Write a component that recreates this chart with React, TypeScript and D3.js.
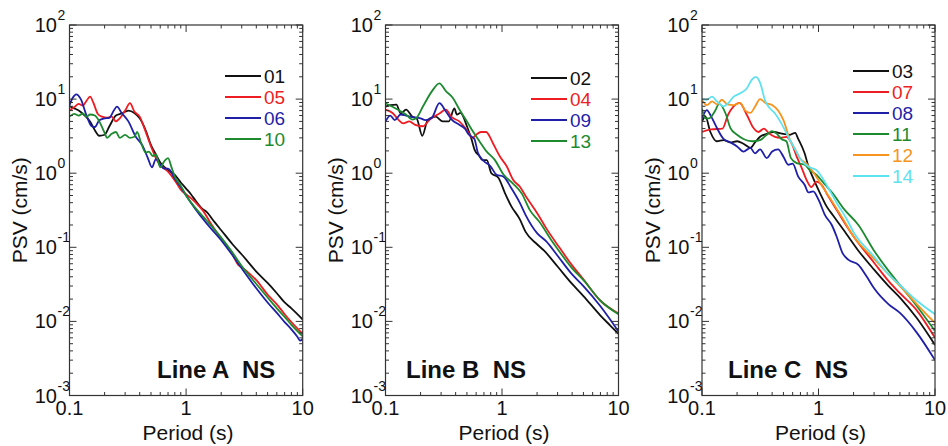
import React from 'react'
import * as d3 from 'd3'

type Pt = [number, number]

// period (s), PSV (cm/s) pairs

// Line A
const a01: Pt[] = [[0.1, 8], [0.11, 7.5], [0.12, 7], [0.135, 6], [0.15, 5], [0.165, 3.8], [0.18, 3.2], [0.2, 3.3], [0.22, 4.3], [0.25, 6], [0.28, 6.4], [0.32, 7], [0.36, 6.5], [0.4, 5.5], [0.45, 3.8], [0.5, 2.4], [0.55, 1.8], [0.6, 1.4], [0.7, 1.1], [0.8, 0.95], [0.9, 0.75], [1.0, 0.62], [1.1, 0.52], [1.2, 0.43], [1.35, 0.34], [1.5, 0.3], [1.75, 0.22], [2, 0.17], [2.5, 0.11], [3, 0.08], [4, 0.047], [5, 0.033], [6, 0.024], [7, 0.018], [8, 0.015], [10, 0.0106]]
const a05: Pt[] = [[0.1, 7], [0.11, 7.8], [0.12, 8.6], [0.13, 8.2], [0.14, 9.5], [0.15, 10.8], [0.16, 9], [0.175, 6.3], [0.19, 5.8], [0.21, 5.6], [0.23, 5.8], [0.25, 5], [0.27, 5.5], [0.3, 7], [0.33, 8.8], [0.36, 6.8], [0.4, 5.8], [0.44, 4], [0.5, 2.3], [0.55, 1.6], [0.6, 1.3], [0.7, 1.05], [0.8, 0.8], [0.9, 0.6], [1.0, 0.52], [1.1, 0.46], [1.25, 0.38], [1.4, 0.31], [1.6, 0.22], [2, 0.13], [2.5, 0.08], [2.8, 0.058], [3.1, 0.052], [3.5, 0.044], [4, 0.036], [5, 0.023], [6, 0.017], [7, 0.0125], [8, 0.0098], [10, 0.0068]]
const a06: Pt[] = [[0.1, 8.3], [0.107, 10.5], [0.114, 11.6], [0.125, 10], [0.14, 6], [0.155, 4.3], [0.165, 4.2], [0.18, 5.2], [0.2, 5.5], [0.22, 5.6], [0.24, 7], [0.255, 7.9], [0.28, 6.5], [0.32, 5], [0.37, 3.1], [0.42, 2.4], [0.47, 1.6], [0.51, 1.2], [0.55, 1.55], [0.6, 1.3], [0.65, 1.15], [0.7, 1.15], [0.8, 0.85], [0.9, 0.65], [1.0, 0.5], [1.2, 0.33], [1.5, 0.21], [2, 0.125], [2.5, 0.078], [3, 0.052], [4, 0.028], [5, 0.018], [6, 0.013], [7, 0.0098], [8, 0.0078], [9, 0.0062], [9.5, 0.0055], [10, 0.0058]]
const a10: Pt[] = [[0.1, 5.8], [0.11, 6.3], [0.12, 6], [0.13, 6.4], [0.14, 5.8], [0.15, 6.2], [0.165, 6], [0.18, 5], [0.2, 3.5], [0.21, 3.0], [0.23, 3.4], [0.25, 3.6], [0.27, 3.0], [0.3, 3.3], [0.33, 3.0], [0.36, 3.1], [0.38, 3.6], [0.41, 2.6], [0.45, 1.9], [0.48, 1.95], [0.52, 1.7], [0.55, 1.8], [0.6, 1.2], [0.65, 1.45], [0.7, 1.6], [0.75, 1.2], [0.8, 0.9], [0.9, 0.68], [1.0, 0.5], [1.2, 0.34], [1.5, 0.23], [2, 0.135], [2.5, 0.085], [3, 0.056], [4, 0.032], [5, 0.021], [6, 0.015], [7, 0.0115], [8, 0.009], [10, 0.0063]]

// Line B
const b02: Pt[] = [[0.1, 7.9], [0.11, 8.3], [0.124, 8.4], [0.135, 6.4], [0.15, 7.2], [0.17, 5.8], [0.185, 5.5], [0.207, 3.2], [0.23, 5.2], [0.27, 5.8], [0.31, 5], [0.35, 5], [0.39, 7.5], [0.41, 6.2], [0.44, 6.5], [0.5, 4.3], [0.55, 2.8], [0.58, 2.1], [0.64, 1.7], [0.68, 1.5], [0.74, 1.5], [0.81, 1.0], [0.93, 0.87], [1.06, 0.54], [1.2, 0.36], [1.42, 0.24], [1.6, 0.16], [2, 0.11], [2.3, 0.09], [3, 0.055], [4, 0.032], [5, 0.022], [7, 0.012], [8.5, 0.0088], [10, 0.0068]]
const b04: Pt[] = [[0.1, 7.2], [0.115, 6.5], [0.13, 5.2], [0.142, 4.7], [0.16, 5], [0.18, 4.5], [0.21, 4.3], [0.24, 5.3], [0.29, 6.4], [0.33, 7.2], [0.37, 5.7], [0.43, 5], [0.5, 3.8], [0.56, 3.0], [0.6, 3.3], [0.66, 3.6], [0.73, 3.6], [0.84, 2.5], [0.96, 1.68], [1.1, 1.23], [1.25, 0.81], [1.42, 0.66], [1.6, 0.49], [2, 0.29], [2.4, 0.18], [3.1, 0.1], [4, 0.057], [5, 0.037], [7, 0.019], [10, 0.0128]]
const b09: Pt[] = [[0.1, 5], [0.11, 6], [0.12, 5.2], [0.135, 6.2], [0.15, 6], [0.17, 5.7], [0.2, 5.5], [0.22, 5.2], [0.25, 5.6], [0.29, 8.8], [0.33, 6.8], [0.37, 5.3], [0.43, 4.5], [0.48, 4], [0.52, 3.3], [0.58, 2.9], [0.62, 1.9], [0.7, 1.45], [0.79, 1.26], [0.9, 0.95], [1.03, 0.9], [1.2, 0.63], [1.42, 0.4], [1.6, 0.27], [2, 0.155], [2.4, 0.12], [3, 0.077], [4, 0.043], [5, 0.03], [7, 0.016], [10, 0.0073]]
const b13: Pt[] = [[0.1, 8.8], [0.12, 7.6], [0.15, 6.2], [0.17, 5.3], [0.185, 5.6], [0.21, 8], [0.25, 12.7], [0.29, 16.3], [0.33, 12.8], [0.38, 10.3], [0.43, 7.3], [0.5, 5], [0.56, 3.7], [0.64, 2.7], [0.73, 2], [0.87, 1.5], [1.03, 0.96], [1.25, 0.72], [1.48, 0.53], [1.73, 0.32], [2.1, 0.22], [2.7, 0.12], [3, 0.095], [4, 0.052], [5, 0.036], [7, 0.019], [10, 0.0125]]

// Line C
const c03: Pt[] = [[0.1, 5], [0.107, 5.8], [0.118, 3.6], [0.134, 2.7], [0.153, 2.8], [0.175, 2.6], [0.2, 2.7], [0.227, 2.5], [0.26, 2.2], [0.285, 2.6], [0.315, 3.1], [0.36, 3.4], [0.41, 3.6], [0.5, 3.4], [0.57, 3.3], [0.63, 3.5], [0.67, 2.9], [0.76, 1.86], [0.82, 1.23], [0.9, 0.86], [1.03, 0.54], [1.17, 0.36], [1.33, 0.27], [1.65, 0.17], [2.2, 0.09], [3, 0.05], [4, 0.03], [5, 0.021], [7, 0.011], [10, 0.0048]]
const c07: Pt[] = [[0.1, 3.6], [0.12, 3.9], [0.15, 4], [0.167, 6.1], [0.186, 7.9], [0.21, 8.9], [0.243, 6.1], [0.276, 4.1], [0.305, 3.6], [0.34, 4], [0.38, 3.4], [0.47, 3.0], [0.53, 3.1], [0.59, 2.5], [0.65, 1.67], [0.71, 1.23], [0.79, 0.81], [0.87, 0.65], [0.96, 0.77], [1.06, 0.7], [1.21, 0.49], [1.43, 0.32], [1.72, 0.2], [2, 0.14], [3, 0.062], [4, 0.035], [5, 0.024], [7, 0.014], [10, 0.006]]
const c08: Pt[] = [[0.1, 5.5], [0.11, 7.1], [0.12, 5.8], [0.134, 4.1], [0.153, 2.9], [0.175, 2.6], [0.2, 2.3], [0.227, 1.96], [0.26, 2.2], [0.285, 1.85], [0.315, 2.1], [0.36, 1.6], [0.4, 1.96], [0.45, 2.1], [0.5, 1.67], [0.55, 1.3], [0.6, 1.35], [0.67, 0.9], [0.76, 0.7], [0.82, 0.55], [0.9, 0.57], [1.0, 0.44], [1.14, 0.27], [1.3, 0.2], [1.43, 0.14], [1.6, 0.085], [1.8, 0.068], [2.2, 0.058], [2.6, 0.04], [3, 0.028], [4, 0.017], [5, 0.013], [7, 0.007], [10, 0.003]]
const c11: Pt[] = [[0.1, 7.4], [0.107, 5.5], [0.115, 5.5], [0.13, 7], [0.14, 8.6], [0.16, 6.3], [0.175, 4.1], [0.2, 3.3], [0.227, 2.9], [0.27, 2.7], [0.315, 2.8], [0.36, 3.3], [0.4, 3.7], [0.44, 3.4], [0.48, 2.9], [0.53, 2.7], [0.58, 1.6], [0.65, 1.37], [0.76, 1.3], [0.84, 1.1], [0.96, 0.95], [1.14, 0.7], [1.33, 0.53], [1.65, 0.33], [2.2, 0.2], [3, 0.09], [4, 0.048], [5, 0.031], [7, 0.016], [10, 0.0074]]
const c12: Pt[] = [[0.1, 9.7], [0.11, 8.3], [0.122, 9.3], [0.135, 8.5], [0.148, 9.8], [0.165, 8.5], [0.186, 8.3], [0.213, 8.9], [0.235, 7], [0.26, 6.5], [0.285, 7.9], [0.315, 10], [0.35, 8.9], [0.4, 8.3], [0.45, 7], [0.5, 5.2], [0.57, 2.8], [0.63, 2.1], [0.69, 1.6], [0.79, 1.35], [0.93, 0.96], [1.1, 0.63], [1.33, 0.4], [1.6, 0.25], [2, 0.14], [3, 0.07], [4, 0.043], [5, 0.03], [7, 0.017], [10, 0.0095]]
const c14: Pt[] = [[0.1, 10], [0.11, 9.8], [0.122, 10.8], [0.134, 9.3], [0.153, 8], [0.17, 9], [0.186, 10.7], [0.213, 12], [0.243, 14], [0.267, 18.2], [0.29, 20], [0.315, 16.7], [0.35, 9.3], [0.38, 7.6], [0.42, 6.5], [0.48, 4.7], [0.55, 3.1], [0.63, 2.1], [0.71, 1.5], [0.84, 1.2], [0.96, 1.1], [1.17, 0.7], [1.43, 0.4], [1.72, 0.25], [2, 0.16], [3, 0.075], [4, 0.043], [5, 0.031], [7, 0.019], [10, 0.0125]]

const xMajor = [0.1, 1, 10]
const xMajorLabels = ['0.1', '1', '10']
const yExponents = [2, 1, 0, -1, -2, -3]

const COL = {
  black: '#111111',
  red: '#ee1d23',
  blue: '#1f1fa8',
  green: '#1d8a2f',
  orange: '#f7941e',
  cyan: '#5fe2ef',
}

const FONT = '"Liberation Sans", Arial, sans-serif'
const TOP = 25
const BOTTOM = 395.5

const panels = [
  {
    title: 'Line A  NS', left: 69.5, right: 302.7, titleX: 157,
    legX: 225, legY: 76,
    series: [
      {id: '01', color: COL.black, data: a01},
      {id: '05', color: COL.red, data: a05},
      {id: '06', color: COL.blue, data: a06},
      {id: '10', color: COL.green, data: a10},
    ],
  },
  {
    title: 'Line B  NS', left: 385.5, right: 618.5, titleX: 406,
    legX: 531, legY: 78,
    series: [
      {id: '02', color: COL.black, data: b02},
      {id: '04', color: COL.red, data: b04},
      {id: '09', color: COL.blue, data: b09},
      {id: '13', color: COL.green, data: b13},
    ],
  },
  {
    title: 'Line C  NS', left: 702, right: 935, titleX: 728,
    legX: 853, legY: 71,
    series: [
      {id: '03', color: COL.black, data: c03},
      {id: '07', color: COL.red, data: c07},
      {id: '08', color: COL.blue, data: c08},
      {id: '11', color: COL.green, data: c11},
      {id: '12', color: COL.orange, data: c12},
      {id: '14', color: COL.cyan, data: c14},
    ],
  },
]

function minors(lo: number, hi: number) {
  const out: number[] = []
  for (let e = lo; e < hi; e++) for (let m = 2; m <= 9; m++) out.push(m * Math.pow(10, e))
  return out
}

function Panel({p, idx}: {p: typeof panels[number]; idx: number}) {
  const x = d3.scaleLog().domain([0.1, 10]).range([p.left, p.right])
  const y = d3.scaleLog().domain([1e-3, 1e2]).range([BOTTOM, TOP])
  const line = d3
    .line<Pt>()
    .x(d => x(d[0]))
    .y(d => y(d[1]))
    .curve(d3.curveMonotoneX)
  const clipId = 'clip' + idx
  const axisCol = '#333'
  const maj = 7
  const mn = 3.5
  const xMin = minors(-1, 1)
  const yMin = minors(-3, 2)
  const yMaj = yExponents.map(e => Math.pow(10, e))
  const cx = (p.left + p.right) / 2
  const cy = (TOP + BOTTOM) / 2

  return (
    <g>
      <defs>
        <clipPath id={clipId}>
          <rect x={p.left} y={TOP} width={p.right - p.left} height={BOTTOM - TOP} />
        </clipPath>
      </defs>

      <g clipPath={`url(#${clipId})`}>
        {p.series.map(s => (
          <path key={s.id} d={line(s.data) || ''} fill="none" stroke={s.color} strokeWidth={1.8} strokeLinejoin="round" />
        ))}
      </g>

      {/* ticks, inward on all four sides */}
      <g stroke={axisCol} strokeWidth={1}>
        {xMajor.map(v => (
          <g key={'xM' + v}>
            <line x1={x(v)} x2={x(v)} y1={BOTTOM} y2={BOTTOM - maj} />
            <line x1={x(v)} x2={x(v)} y1={TOP} y2={TOP + maj} />
          </g>
        ))}
        {xMin.map(v => (
          <g key={'xm' + v}>
            <line x1={x(v)} x2={x(v)} y1={BOTTOM} y2={BOTTOM - mn} />
            <line x1={x(v)} x2={x(v)} y1={TOP} y2={TOP + mn} />
          </g>
        ))}
        {yMaj.map(v => (
          <g key={'yM' + v}>
            <line x1={p.left} x2={p.left + maj} y1={y(v)} y2={y(v)} />
            <line x1={p.right} x2={p.right - maj} y1={y(v)} y2={y(v)} />
          </g>
        ))}
        {yMin.map(v => (
          <g key={'ym' + v}>
            <line x1={p.left} x2={p.left + mn} y1={y(v)} y2={y(v)} />
            <line x1={p.right} x2={p.right - mn} y1={y(v)} y2={y(v)} />
          </g>
        ))}
      </g>
      <rect x={p.left} y={TOP} width={p.right - p.left} height={BOTTOM - TOP} fill="none" stroke={axisCol} strokeWidth={1.2} />

      {/* tick labels */}
      <g fill="#111" fontFamily={FONT}>
        {xMajor.map((v, i) => (
          <text key={'xl' + v} x={x(v)} y={415} fontSize={20} textAnchor="middle">{xMajorLabels[i]}</text>
        ))}
        {yExponents.map(e => {
          const yy = y(Math.pow(10, e))
          return (
            <g key={'yl' + e}>
              <text x={p.left - 12.5} y={yy + 7} fontSize={20} textAnchor="end">10</text>
              <text x={p.left - 12} y={yy - 5} fontSize={14}>{String(e)}</text>
            </g>
          )
        })}
        <text x={cx + 2} y={440} fontSize={21} textAnchor="middle">Period (s)</text>
        <text transform={`translate(${p.left - 42.5},${cy}) rotate(-90)`} fontSize={21} textAnchor="middle">PSV (cm/s)</text>
        <text x={p.titleX} y={378} fontSize={24} fontWeight="bold" style={{whiteSpace: 'pre'}}>{p.title}</text>
      </g>

      {/* legend */}
      <g fontFamily={FONT}>
        {p.series.map((s, i) => {
          const ly = p.legY + i * 21
          return (
            <g key={'lg' + s.id}>
              <line x1={p.legX} x2={p.legX + 36} y1={ly} y2={ly} stroke={s.color} strokeWidth={1.8} />
              <text x={p.legX + 39} y={ly + 7} fontSize={19} fill={s.color}>{s.id}</text>
            </g>
          )
        })}
      </g>
    </g>
  )
}

export default function App() {
  return (
    <div style={{position: 'absolute', left: 0, top: 0}}>
      <svg width={948} height={446} style={{display: 'block', background: '#fff'}}>
        {panels.map((p, i) => (
          <Panel key={p.title} p={p} idx={i} />
        ))}
      </svg>
    </div>
  )
}
